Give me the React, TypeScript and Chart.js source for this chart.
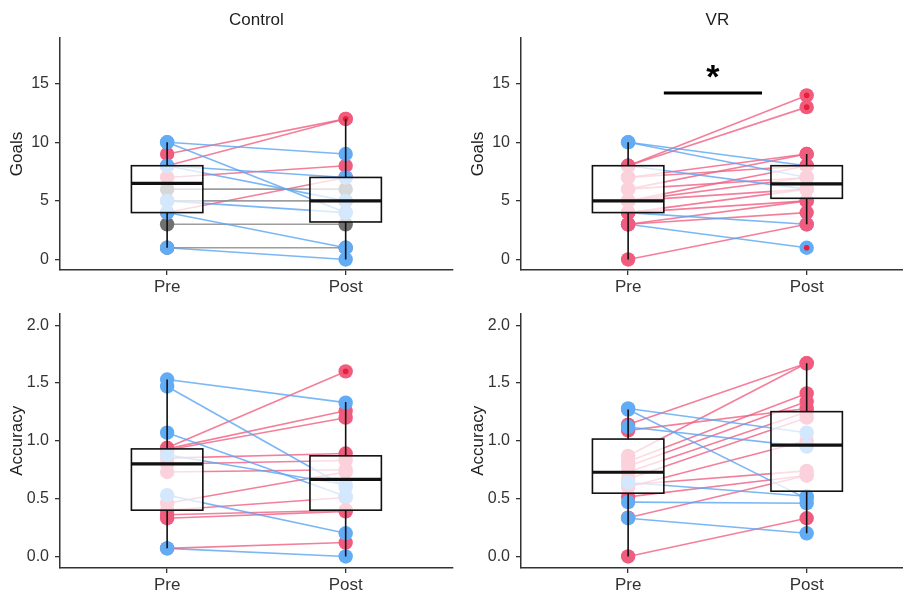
import React, { useEffect, useRef } from "react";
import { Chart, registerables } from "chart.js";

Chart.register(...registerables);

// ---------- data ----------
const conditions = ["Control", "VR"];
const timepoints = ["Pre", "Post"];
const measures = ["Goals", "Accuracy"];
const goalTicks = [0, 5, 10, 15];
const accuracyTicks = [0, 0.5, 1.0, 1.5, 2.0];

const controlGoalsPre = [10, 10, 9, 8, 8, 8, 7, 6, 5, 5, 4, 4, 3, 1, 1];
const controlGoalsPost = [9, 4, 12, 12, 5, 7, 8, 6, 5, 4, 7, 1, 3, 1, 0];

const vrGoalsPre = [10, 10, 8, 8, 8, 7, 7, 6, 6, 5, 5, 5, 4, 4, 4, 3, 3, 3, 0];
const vrGoalsPost = [8, 7, 14, 13, 6, 9, 8, 9, 7, 8, 6, 7, 6, 5, 3, 5, 4, 1, 3];

const controlAccuracyPre = [1.53, 1.47, 1.07, 0.94, 0.93, 0.92, 0.88, 0.85, 0.8, 0.73, 0.53, 0.46, 0.4, 0.36, 0.33, 0.07, 0.07];
const controlAccuracyPost = [1.33, 0.6, 0.52, 1.6, 1.26, 1.2, 0.62, 0.89, 0.83, 0.75, 0.2, 0.73, 0.51, 0.4, 0.39, 0.12, 0.0];

const vrAccuracyPre = [1.28, 1.27, 1.14, 1.12, 1.09, 0.87, 0.82, 0.78, 0.73, 0.67, 0.62, 0.64, 0.6, 0.515, 0.47, 0.335, 0.33, 0.0];
const vrAccuracyPost = [1.07, 0.5, 1.67, 0.95, 1.28, 1.67, 1.41, 1.34, 1.25, 1.2, 0.74, 0.52, 1.0, 0.7, 0.46, 0.7, 0.2, 0.33];

// box statistics: [lower whisker, Q1, median, Q3, upper whisker]
const controlGoalsBoxPre = [1, 4, 6.5, 8, 10];
const controlGoalsBoxPost = [0, 3.2, 5, 7, 12];
const vrGoalsBoxPre = [0, 4, 5, 8, 10];
const vrGoalsBoxPost = [3, 5.22, 6.45, 8, 9];
const controlAccuracyBoxPre = [0.07, 0.4, 0.8, 0.93, 1.53];
const controlAccuracyBoxPost = [0.0, 0.4, 0.667, 0.87, 1.335];
const vrAccuracyBoxPre = [0.0, 0.547, 0.728, 1.015, 1.27];
const vrAccuracyBoxPost = [0.2, 0.564, 0.963, 1.252, 1.67];

// boxplot outliers (post)
const controlGoalsOutliersPost = [12];
const vrGoalsOutliersPost = [14, 13, 1];
const controlAccuracyOutliersPost = [1.6];
const vrAccuracyOutliersPost: number[] = [];

const significanceLabel = "*";

// ---------- styling ----------
const FONT = "'Liberation Sans', Arial, Helvetica, sans-serif";
const AXIS_COLOR = "#333333";
const TEXT_COLOR = "#1e1e1e";
const LINE_UP = "rgba(240, 95, 130, 0.8)";
const LINE_DOWN = "rgba(90, 165, 242, 0.8)";
const LINE_SAME = "rgba(140, 140, 140, 0.85)";
const PT_UP = "rgb(240, 92, 126)";
const PT_DOWN = "rgb(98, 172, 246)";
const PT_SAME = "rgb(112, 112, 112)";
const OUTLIER = "rgba(232, 28, 48, 0.95)";

type Panel = {
  key: string;
  left: number;
  top: number;
  width: number;
  height: number;
  title: string | null;
  yLabel: string;
  pre: number[];
  post: number[];
  boxPre: number[];
  boxPost: number[];
  outliersPost: number[];
  yMin: number;
  yMax: number;
  yTicks: number[];
  decimals: number;
  padTop: number;
  padRight: number;
  xHeight: number;
  blueOnTop: boolean;
  signif: null | { from: number; to: number; y: number; labelX: number; labelY: number };
};

const panels: Panel[] = [
  {
    key: "cg", left: 0, top: 0, width: 460, height: 298, title: conditions[0], yLabel: measures[0],
    pre: controlGoalsPre, post: controlGoalsPost, boxPre: controlGoalsBoxPre, boxPost: controlGoalsBoxPost,
    outliersPost: controlGoalsOutliersPost, yMin: -0.9, yMax: 18.9, yTicks: goalTicks, decimals: 0,
    padTop: 0, padRight: 3, xHeight: 28, blueOnTop: true, signif: null,
  },
  {
    key: "vg", left: 461, top: 0, width: 460, height: 298, title: conditions[1], yLabel: measures[0],
    pre: vrGoalsPre, post: vrGoalsPost, boxPre: vrGoalsBoxPre, boxPost: vrGoalsBoxPost,
    outliersPost: vrGoalsOutliersPost, yMin: -0.9, yMax: 18.9, yTicks: goalTicks, decimals: 0,
    padTop: 0, padRight: 6, xHeight: 28, blueOnTop: false,
    signif: { from: 1.2, to: 1.75, y: 14.2, labelX: 1.475, labelY: 15.4 },
  },
  {
    key: "ca", left: 0, top: 298, width: 460, height: 292, title: null, yLabel: measures[1],
    pre: controlAccuracyPre, post: controlAccuracyPost, boxPre: controlAccuracyBoxPre, boxPost: controlAccuracyBoxPost,
    outliersPost: controlAccuracyOutliersPost, yMin: -0.1, yMax: 2.1, yTicks: accuracyTicks, decimals: 1,
    padTop: 14, padRight: 3, xHeight: 22, blueOnTop: true, signif: null,
  },
  {
    key: "va", left: 461, top: 298, width: 460, height: 292, title: null, yLabel: measures[1],
    pre: vrAccuracyPre, post: vrAccuracyPost, boxPre: vrAccuracyBoxPre, boxPost: vrAccuracyBoxPost,
    outliersPost: vrAccuracyOutliersPost, yMin: -0.1, yMax: 2.1, yTicks: accuracyTicks, decimals: 1,
    padTop: 14, padRight: 6, xHeight: 22, blueOnTop: true, signif: null,
  },
];

function dirColor(pre: number, post: number, up: string, down: string, same: string) {
  const d = post - pre;
  return d > 0 ? up : d < 0 ? down : same;
}

function makeBoxPlugin(p: Panel) {
  return {
    id: "boxes_" + p.key,
    afterDatasetsDraw(chart: any) {
      const xs = chart.scales.x;
      const ys = chart.scales.y;
      const ctx = chart.ctx as CanvasRenderingContext2D;
      ctx.save();
      const boxes: [number, number[]][] = [
        [1, p.boxPre],
        [2, p.boxPost],
      ];
      for (const [pos, stats] of boxes) {
        const xc = xs.getPixelForValue(pos);
        const half = xs.getPixelForValue(pos + 0.2) - xc;
        const [lo, q1, med, q3, hi] = stats.map((v) => ys.getPixelForValue(v));
        ctx.strokeStyle = "#111";
        ctx.lineWidth = 1.6;
        ctx.beginPath();
        ctx.moveTo(xc, q3);
        ctx.lineTo(xc, hi);
        ctx.moveTo(xc, q1);
        ctx.lineTo(xc, lo);
        ctx.stroke();
        ctx.fillStyle = "rgba(255,255,255,0.72)";
        ctx.fillRect(xc - half, q3, 2 * half, q1 - q3);
        ctx.strokeRect(xc - half, q3, 2 * half, q1 - q3);
        ctx.lineWidth = 3.2;
        ctx.beginPath();
        ctx.moveTo(xc - half, med);
        ctx.lineTo(xc + half, med);
        ctx.stroke();
      }
      if (p.signif) {
        const s = p.signif;
        ctx.strokeStyle = "#000";
        ctx.lineWidth = 3;
        ctx.beginPath();
        const yb = ys.getPixelForValue(s.y);
        ctx.moveTo(xs.getPixelForValue(s.from), yb);
        ctx.lineTo(xs.getPixelForValue(s.to), yb);
        ctx.stroke();
        ctx.fillStyle = "#000";
        ctx.font = `bold 34px ${FONT}`;
        ctx.textAlign = "center";
        ctx.textBaseline = "middle";
        ctx.fillText(significanceLabel, xs.getPixelForValue(s.labelX), ys.getPixelForValue(s.labelY));
      }
      ctx.restore();
    },
  };
}

function makeConfig(p: Panel): any {
  const lineSets = p.pre.map((v, i) => ({
    data: [
      { x: 1, y: v },
      { x: 2, y: p.post[i] },
    ],
    showLine: true,
    borderColor: dirColor(v, p.post[i], LINE_UP, LINE_DOWN, LINE_SAME),
    borderWidth: 1.6,
    pointRadius: 0,
    pointHoverRadius: 0,
    order: 3,
  }));
  // points: draw order puts the chosen direction on top
  const items: { x: number; y: number; c: string; rank: number }[] = [];
  p.pre.forEach((v, i) => {
    const c = dirColor(v, p.post[i], PT_UP, PT_DOWN, PT_SAME);
    const isBlue = c === PT_DOWN;
    const isPink = c === PT_UP;
    const rank = p.blueOnTop ? (isBlue ? 2 : isPink ? 1 : 0) : isPink ? 2 : isBlue ? 1 : 0;
    items.push({ x: 1, y: v, c, rank });
    items.push({ x: 2, y: p.post[i], c, rank });
  });
  items.sort((a, b) => a.rank - b.rank);
  const pointSet = {
    data: items.map((it) => ({ x: it.x, y: it.y })),
    backgroundColor: items.map((it) => it.c),
    borderWidth: 0,
    pointRadius: 7.2,
    pointHoverRadius: 7.2,
    order: 2,
  };
  const outlierSet = {
    data: p.outliersPost.map((v) => ({ x: 2, y: v })),
    backgroundColor: OUTLIER,
    borderWidth: 0,
    pointRadius: 2.8,
    pointHoverRadius: 2.8,
    order: 1,
  };
  return {
    type: "scatter",
    data: { datasets: [outlierSet, pointSet, ...lineSets] },
    options: {
      animation: false,
      responsive: false,
      events: [],
      layout: { padding: { top: p.padTop, right: p.padRight, left: 0, bottom: 0 } },
      plugins: {
        legend: { display: false },
        tooltip: { enabled: false },
        title: p.title
          ? {
              display: true,
              text: p.title,
              fullSize: false,
              color: TEXT_COLOR,
              font: { family: FONT, size: 17, weight: "normal" },
              padding: { top: 10, bottom: 7.6 },
            }
          : { display: false },
      },
      scales: {
        x: {
          type: "linear",
          min: 0.4,
          max: 2.6,
          afterBuildTicks: (s: any) => {
            s.ticks = [{ value: 1 }, { value: 2 }];
          },
          afterFit: (s: any) => {
            s.height = p.xHeight;
          },
          ticks: {
            callback: (_v: any, i: number) => timepoints[i],
            color: AXIS_COLOR,
            font: { family: FONT, size: 17 },
            padding: 2,
            maxRotation: 0,
          },
          grid: { drawOnChartArea: false, drawTicks: true, tickLength: 5, color: AXIS_COLOR, lineWidth: 1.3 },
          border: { display: true, color: AXIS_COLOR, width: 1.5 },
        },
        y: {
          type: "linear",
          min: p.yMin,
          max: p.yMax,
          afterBuildTicks: (s: any) => {
            s.ticks = p.yTicks.map((v) => ({ value: v }));
          },
          afterFit: (s: any) => {
            s.width = 60;
          },
          ticks: {
            callback: (v: any) => Number(v).toFixed(p.decimals),
            color: AXIS_COLOR,
            font: { family: FONT, size: 16 },
            padding: 6,
          },
          title: {
            display: true,
            text: p.yLabel,
            color: TEXT_COLOR,
            font: { family: FONT, size: 17 },
            padding: { top: 7, bottom: 0 },
          },
          grid: { drawOnChartArea: false, drawTicks: true, tickLength: 5, color: AXIS_COLOR, lineWidth: 1.3 },
          border: { display: true, color: AXIS_COLOR, width: 1.5 },
        },
      },
    },
    plugins: [makeBoxPlugin(p)],
  };
}

function PanelChart({ p }: { p: Panel }) {
  const ref = useRef<HTMLCanvasElement | null>(null);
  useEffect(() => {
    if (!ref.current) return;
    const chart = new Chart(ref.current, makeConfig(p));
    return () => chart.destroy();
  }, [p]);
  return (
    <canvas
      ref={ref}
      width={p.width}
      height={p.height}
      style={{ position: "absolute", left: p.left, top: p.top, width: p.width, height: p.height }}
    />
  );
}

export default function App() {
  return (
    <div
      style={{
        position: "absolute",
        left: 0,
        top: 0,
        width: 903,
        height: 590,
        overflow: "hidden",
        background: "#ffffff",
      }}
    >
      {panels.map((p) => (
        <PanelChart key={p.key} p={p} />
      ))}
    </div>
  );
}
